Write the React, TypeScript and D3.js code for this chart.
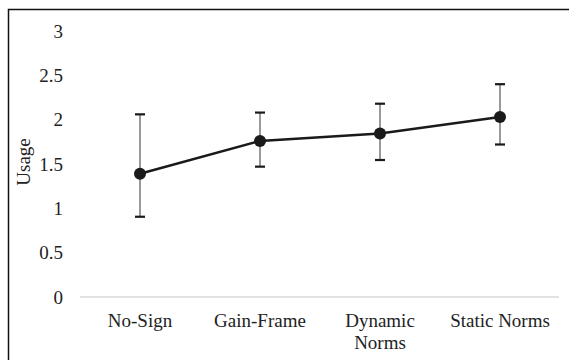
import React, { useEffect, useRef } from "react";
import * as d3 from "d3";

// condition labels (Dynamic Norms wraps onto two lines)
const categories = ["No-Sign", "Gain-Frame", "Dynamic Norms", "Static Norms"];
const labelLines = [["No-Sign"], ["Gain-Frame"], ["Dynamic", "Norms"], ["Static Norms"]];
const means = [1.39, 1.76, 1.845, 2.03];
const upper = [2.06, 2.08, 2.18, 2.4];
const lower = [0.905, 1.47, 1.545, 1.72];
const yTicks = [0, 0.5, 1, 1.5, 2, 2.5, 3];

const width = 569;
const height = 360;
const font = "'Liberation Serif', 'Times New Roman', serif";

function App() {
    const svgRef = useRef<SVGSVGElement>(null);

    useEffect(() => {
        const svg = d3.select(svgRef.current);
        svg.selectAll("*").remove();

        const x = d3.scaleBand().domain(categories).range([80, 560]).padding(0);
        const y = d3.scaleLinear().domain([0, 3]).range([297, 31]);
        const cx = (c: string) => (x(c) as number) + x.bandwidth() / 2;

        // outer frame (only top and left edges are visible in the crop)
        svg.append("rect")
            .attr("x", 8.5).attr("y", 9.5)
            .attr("width", 600).attr("height", 400)
            .attr("fill", "white")
            .attr("stroke", "#111").attr("stroke-width", 1.5);

        // y tick labels
        svg.append("g")
            .selectAll("text")
            .data(yTicks)
            .join("text")
            .attr("x", 63)
            .attr("y", d => y(d))
            .attr("dy", "0.35em")
            .attr("text-anchor", "end")
            .attr("font-family", font)
            .attr("font-size", 19)
            .attr("fill", "#222")
            .text(d => d3.format("")(d));

        // y axis title
        svg.append("text")
            .attr("transform", `translate(30, 162) rotate(-90)`)
            .attr("text-anchor", "middle")
            .attr("font-family", font)
            .attr("font-size", 19)
            .attr("fill", "#222")
            .text("Usage");

        // baseline
        svg.append("line")
            .attr("x1", 80).attr("x2", 559)
            .attr("y1", y(0)).attr("y2", y(0))
            .attr("stroke", "#d9d9d9").attr("stroke-width", 1.5);

        // category labels
        const lab = svg.append("g")
            .selectAll("text")
            .data(categories)
            .join("text")
            .attr("text-anchor", "middle")
            .attr("font-family", font)
            .attr("font-size", 19)
            .attr("fill", "#222");
        lab.selectAll("tspan")
            .data((d, i) => labelLines[i].map(t => ({ t, c: d })))
            .join("tspan")
            .attr("x", d => cx(d.c))
            .attr("y", (d, i) => 327 + i * 21.5)
            .text(d => d.t);

        const data = categories.map((c, i) => ({ c, m: means[i], hi: upper[i], lo: lower[i] }));

        // error bars
        const eb = svg.append("g");
        eb.selectAll("line.v")
            .data(data)
            .join("line")
            .attr("class", "v")
            .attr("x1", d => cx(d.c)).attr("x2", d => cx(d.c))
            .attr("y1", d => y(d.hi)).attr("y2", d => y(d.lo))
            .attr("stroke", "#555").attr("stroke-width", 1.2);
        eb.selectAll("line.cap")
            .data(data.flatMap(d => [{ c: d.c, v: d.hi }, { c: d.c, v: d.lo }]))
            .join("line")
            .attr("class", "cap")
            .attr("x1", d => cx(d.c) - 5).attr("x2", d => cx(d.c) + 5)
            .attr("y1", d => y(d.v)).attr("y2", d => y(d.v))
            .attr("stroke", "#1a1a1a").attr("stroke-width", 2.2);

        // mean line
        const line = d3.line<{ c: string; m: number }>()
            .x(d => cx(d.c))
            .y(d => y(d.m));
        svg.append("path")
            .datum(data)
            .attr("d", line)
            .attr("fill", "none")
            .attr("stroke", "#1a1a1a")
            .attr("stroke-width", 2.5);

        svg.append("g")
            .selectAll("circle")
            .data(data)
            .join("circle")
            .attr("cx", d => cx(d.c))
            .attr("cy", d => y(d.m))
            .attr("r", 6)
            .attr("fill", "#1a1a1a");
    }, []);

    return (
        <svg
            ref={svgRef}
            width={width}
            height={height}
            style={{ position: "absolute", left: 0, top: 0, display: "block", background: "white" }}
        ></svg>
    );
}

export default App;
